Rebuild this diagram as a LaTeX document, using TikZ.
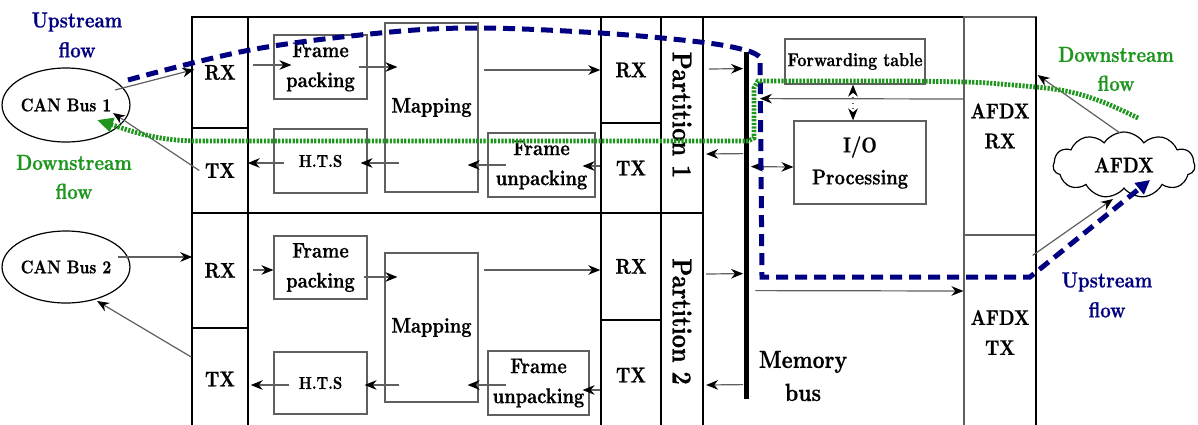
\documentclass[tikz,border=0pt]{standalone}
\usepackage{fontspec}
\setmainfont{lmroman10-bold.otf}[FakeStretch=0.84,FakeBold=0.6]
\usetikzlibrary{shapes.geometric,shapes.symbols,arrows.meta,calc}
\definecolor{flownavy}{RGB}{0,0,128}
\definecolor{flowgreen}{RGB}{30,150,30}
\definecolor{boxgray}{RGB}{95,95,95}
\begin{document}
\begin{tikzpicture}[x=0.5pt,y=-0.5pt,
  sz/.style 2 args={minimum width=#1*0.5pt,minimum height=#2*0.5pt},
  mainfont/.style={font=\fontsize{10.7}{15}\selectfont},
  col/.style={draw=black,line width=0.75pt,inner sep=0pt,mainfont,align=center},
  partbox/.style={draw=black,line width=1.1pt,inner sep=0pt,font=\fontsize{13.7}{16}\selectfont},
  afdxcol/.style={draw=boxgray,line width=0.6pt,inner sep=0pt,font=\fontsize{10.6}{15}\selectfont,align=center},
  inbox/.style={draw=boxgray,line width=0.6pt,inner sep=0pt,mainfont,align=center},
  canbus/.style={ellipse,draw=black,line width=0.6pt,inner sep=0pt,font=\fontsize{9.2}{11}\selectfont},
  arr/.style={draw=boxgray,line width=0.6pt,-{Stealth[length=6pt,width=4.8pt,black]}},
  darr/.style={draw=boxgray,line width=0.6pt,{Stealth[length=6pt,width=4.8pt,black]}-{Stealth[length=6pt,width=4.8pt,black]}},
  outer/.style={draw=black,line width=1.1pt},
  upflow/.style={draw=flownavy,line width=2.5pt,dash pattern=on 6pt off 3.5pt,-{Triangle[length=7pt,width=7pt]}},
  downflow/.style={draw=flowgreen,line width=2.4pt,dash pattern=on 1.1pt off 0.7pt,-{Triangle[length=8pt,width=7pt]}},
  uplabel/.style={text=flownavy,font=\fontsize{10.9}{15}\selectfont,align=center},
  downlabel/.style={text=flowgreen,font=\fontsize{10.9}{14.5}\selectfont,align=center}
]
\useasboundingbox[fill=white] (0,0) rectangle (1198,424);

% outer frame
\draw[outer] (192,17) rectangle (1036,430);

% left columns
\node[col,sz={56}{111}] (rx1) at (220,72.5) {RX};
\node[col,sz={56}{85}] (tx1) at (220,170.5) {TX};
\node[col,sz={56}{115}] (rx2) at (220,270.5) {RX};
\node[col,sz={56}{102}] (tx2) at (220,379) {TX};
% right columns
\node[col,sz={60}{106}] (rxr1) at (631,70) {RX};
\node[col,sz={60}{90}] (txr1) at (631,168) {TX};
\node[col,sz={60}{107}] (rxr2) at (631,266.5) {RX};
\node[col,sz={60}{110}] (txr2) at (631,375) {TX};
% partitions
\node[partbox,sz={42}{196}] (part1) at (682,115) {\rotatebox{-90}{Partition 1}};
\node[partbox,sz={42}{217}] (part2) at (682,321.5) {\rotatebox{-90}{Partition 2}};
\draw[outer] (192,213) -- (703,213);
% AFDX columns
\node[afdxcol,sz={72}{218}] (afdxrx) at (1000,126) {AFDX\\RX};
\node[afdxcol,sz={72}{195}] (afdxtx) at (1000,332.5) {AFDX\\TX};
\draw[outer] (1036,17) -- (1036,430);

% inner boxes partition 1
\node[inbox,sz={93}{64}] (fp1) at (320.5,67) {Frame\\packing};
\node[inbox,sz={93}{169}] (map1) at (431.5,107.5) {Mapping};
\node[inbox,sz={93}{64},font=\fontsize{8.7}{11}\selectfont] (hts1) at (320.5,161) {H.T.S};
\node[inbox,sz={107}{64}] (fu1) at (541.5,165) {Frame\\unpacking};
% inner boxes partition 2
\node[inbox,sz={93}{63}] (fp2) at (320.5,267.5) {Frame\\packing};
\node[inbox,sz={93}{149}] (map2) at (431.5,327.5) {Mapping};
\node[inbox,sz={93}{62},font=\fontsize{8.7}{11}\selectfont] (hts2) at (320.5,383) {H.T.S};
\node[inbox,sz={101}{64}] (fu2) at (538.5,383) {Frame\\unpacking};
% right section boxes
\node[inbox,sz={140}{45},font=\fontsize{9.4}{11}\selectfont] (fwd) at (855,61.5) {Forwarding table};
\node[inbox,sz={132}{83},font=\fontsize{10.7}{16}\selectfont] (io) at (860,162.5) {I/O\\Processing};
\node[fill=black,inner sep=0pt,sz={5}{347}] (bus) at (746,225.5) {};
\node[font=\fontsize{12.4}{16.5}\selectfont,align=center] (memlbl) at (803,376) {Memory\\bus};

% CAN buses and cloud
\node[canbus,sz={106}{74}] (can1) at (66,105) {CAN Bus 1};
\node[canbus,sz={106}{72}] (can2) at (66,267) {CAN Bus 2};
\node[cloud,draw=black,line width=0.6pt,cloud puffs=11,cloud puff arc=115,aspect=2.2,inner sep=0pt,sz={142}{66},font=\fontsize{10.7}{13}\selectfont] (afdx) at (1124,165) {AFDX};

% partition 1 arrows
\draw[arr] ($(rx1.east)+(4,-7.5)$) -- ($(fp1.west)+(18,-2)$);
\draw[arr] ($(fp1.east)+(-9,0)$) -- ($(map1.west)+(13,-40.5)$);
\draw[arr] ($(map1.east)+(5,-37.5)$) -- (rxr1.west);
\draw[arr] ($(txr1.west)+(0,-2)$) -- ($(fu1.east)+(-13,1)$);
\draw[arr] ($(fu1.west)+(19,0)$) -- ($(map1.east)+(-11,57.5)$);
\draw[arr] ($(map1.west)+(15,55.5)$) -- ($(hts1.east)+(-7,2)$);
\draw[arr] ($(hts1.west)+(11,2)$) -- ($(tx1.east)+(-1,-7.5)$);
% partition 2 arrows
\draw[arr] ($(rx2.east)+(4,-0.5)$) -- ($(fp2.west)+(0,2.5)$);
\draw[arr] ($(fp2.east)+(-4,9.5)$) -- ($(map2.west)+(13,-50.5)$);
\draw[arr] ($(map2.east)+(5,-57.5)$) -- ($(rxr2.west)+(0,3.5)$);
\draw[arr] ($(txr2.west)+(0,15)$) -- ($(fu2.east)+(-7,7)$);
\draw[arr] ($(fu2.west)+(19,2)$) -- ($(map2.east)+(-11,57.5)$);
\draw[arr] ($(map2.west)+(15,57.5)$) -- ($(hts2.east)+(-3,2)$);
\draw[arr] ($(hts2.west)+(16,2)$) -- ($(tx2.east)+(2,6)$);

% memory bus arrows
\draw[arr] ($(part1.east)+(5,-46)$) -- ($(bus.north west)+(0,17)$);
\draw[arr] ($(bus.north west)+(0,102)$) -- ($(part1.east)+(2,39)$);
\draw[darr] ($(bus.north east)+(2,115)$) -- ($(io.west)+(0,4.5)$);
\draw[arr] ($(afdxrx.west)+(0,-27)$) -- ($(bus.north east)+(11,47)$);
\draw[arr,dotted,{Stealth[length=6pt,width=4.8pt,black]}-{Stealth[length=6pt,width=4.8pt,black]}] ($(fwd.south)+(-2,0)$) -- ($(io.north)+(-7,0)$);
\draw[arr] ($(part2.east)+(2,-47.5)$) -- ($(bus.north west)+(0,222)$);
\draw[arr] ($(bus.north west)+(0,333)$) -- ($(part2.east)+(2,63.5)$);
\draw[arr] ($(bus.north east)+(6.5,239)$) -- ($(afdxtx.west)+(0,-41.5)$);

% CAN arrows
\draw[arr] ($(can1.center)+(49,-15)$) -- ($(rx1.west)+(3,-3)$);
\draw[arr] ($(tx1.west)+(8,0)$) -- ($(can1.center)+(47,8)$);
\draw[arr] ($(can2.center)+(52,-10)$) -- ($(rx2.west)+(1,-13.5)$);
\draw[arr] ($(tx2.west)+(0,-22)$) -- ($(can2.center)+(31,34)$);
% cloud arrows
\draw[arr] ($(afdx.center)+(-4,-32)$) -- ($(afdxrx.east)+(1,-51)$);
\draw[arr] ($(afdxtx.north east)+(-4,21)$) -- ($(afdx.center)+(-11,34)$);

% flows
\coordinate (upstart) at ($(can1.center)+(62,-25)$);
\coordinate (upend) at ($(afdx.center)+(26,15)$);
\draw[upflow] plot[smooth,tension=0.6] coordinates {(upstart) (250,50) (380,33) (477,28) (600,33) (700,42) (745,50) (760,57)} -- (762,277) -- (1030,277) -- (upend);
\coordinate (downstart) at (1138,118);
\coordinate (downend) at ($(can1.center)+(31,15)$);
\draw[downflow] plot[smooth,tension=0.6] coordinates {(downstart) (1100,101) (1060,90) (1000,84) (964,82) (900,81)} -- (758,81) -- (754,88) -- (754,138) -- (748,141) -- (200,141) to[out=180,in=-18] (downend);

% flow labels
\node[uplabel] (upl1) at (77,35) {Upstream\\flow};
\node[downlabel] (dnl1) at (74,177) {Downstream\\flow};
\node[downlabel] (dnl2) at (1116,69) {Downstream\\flow};
\node[uplabel] (upl2) at (1107,295) {Upstream\\flow};
\end{tikzpicture}
\end{document}
